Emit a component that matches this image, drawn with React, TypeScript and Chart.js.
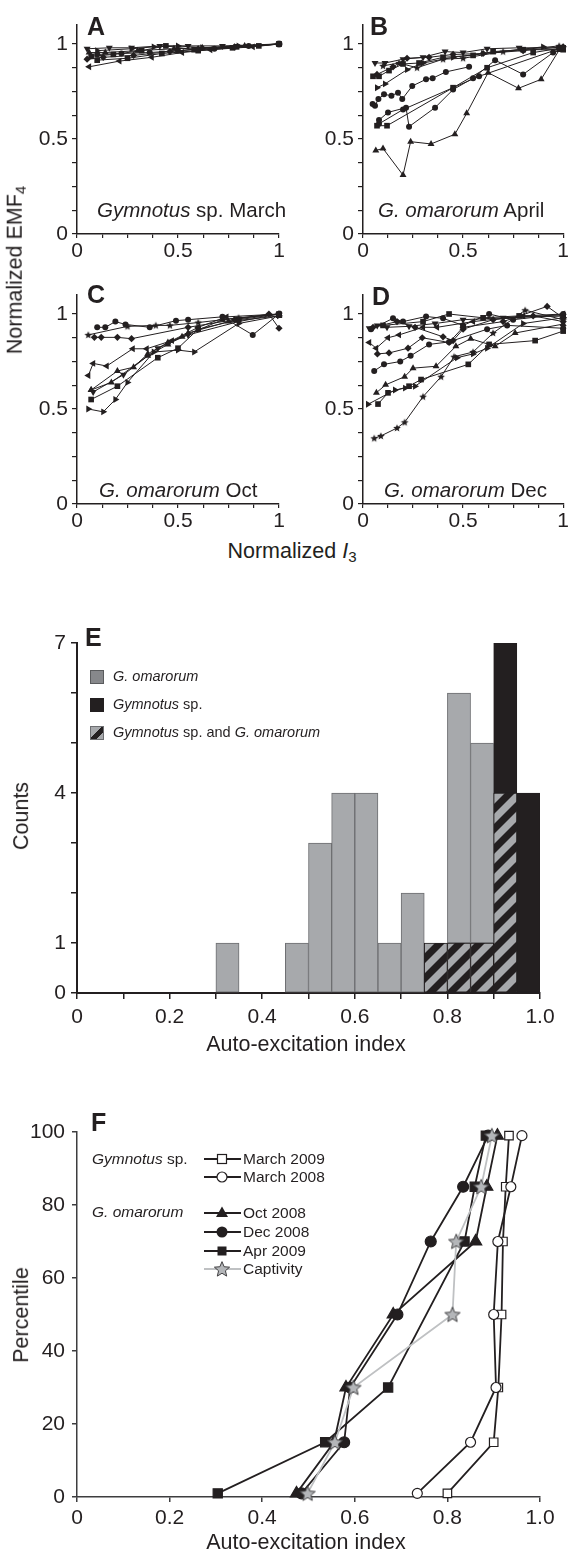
import React, { useEffect, useRef } from 'react';
import { Chart, registerables } from 'chart.js';

Chart.register(...registerables);

const FONT = "'Liberation Sans', Arial, Helvetica, sans-serif";
const INK = '#231f20';
const BAR_GRAY = '#a7a9ac';
const BAR_EDGE = '#6d6e71';
const STAR_GRAY = '#b4b6b9';
const LINE_GRAY = '#bfc1c3';
const AXIS_F = '#3d3d3f';
const TICK_SIZE = 21;
const TITLE_SIZE = 21.5;

type P = [number, number];

// ---------- Panels A–D (normalized EMF4 vs normalized I3) ----------
const smallTicks = [0, 0.125, 0.25, 0.375, 0.5, 0.625, 0.75, 0.875, 1];
const smallTickLabels = ['0', '', '', '', '0.5', '', '', '', '1'];

const panelAShapes = ['down', 'right', 'square', 'circle', 'up', 'diamond', 'left', 'square'];
const panelA: P[][] = [
  [[0.05, 0.975], [0.16, 0.98], [0.27, 0.98], [0.41, 0.99], [0.55, 0.99], [0.72, 0.99], [1, 1]],
  [[0.1, 0.965], [0.27, 0.975], [0.38, 0.985], [0.5, 0.99], [0.62, 0.98], [0.8, 0.99], [1, 1]],
  [[0.07, 0.935], [0.18, 0.945], [0.32, 0.965], [0.44, 0.99], [0.58, 0.97], [0.79, 0.985], [0.9, 0.99], [1, 1]],
  [[0.1, 0.945], [0.22, 0.95], [0.36, 0.955], [0.5, 0.965], [0.68, 0.975], [0.85, 0.99], [1, 1]],
  [[0.06, 0.955], [0.14, 0.955], [0.3, 0.965], [0.48, 0.975], [0.62, 0.98], [0.83, 0.99], [1, 1]],
  [[0.05, 0.92], [0.13, 0.93], [0.28, 0.94], [0.46, 0.96], [0.6, 0.975], [0.78, 0.985], [1, 1]],
  [[0.06, 0.88], [0.21, 0.91], [0.37, 0.93], [0.52, 0.955], [0.66, 0.97], [0.87, 0.985], [1, 1]],
  [[0.1, 0.915], [0.25, 0.925], [0.42, 0.95], [0.6, 0.965], [0.77, 0.98], [1, 1]],
];

const panelBShapes = ['up', 'circle', 'square', 'circle', 'circle', 'down', 'diamond', 'square', 'right', 'star'];
const panelB: P[][] = [
  [[0.064, 0.44], [0.1, 0.45], [0.2, 0.31], [0.238, 0.486], [0.34, 0.474], [0.459, 0.525], [0.518, 0.635], [0.625, 0.849], [0.777, 0.767], [0.89, 0.814], [0.98, 0.968]],
  [[0.08, 0.6], [0.125, 0.64], [0.215, 0.665], [0.23, 0.565], [0.36, 0.665], [0.45, 0.76], [0.55, 0.82], [0.66, 0.915], [0.8, 0.84], [0.95, 0.955]],
  [[0.07, 0.57], [0.12, 0.57], [0.45, 0.77], [0.62, 0.875], [0.85, 0.955], [1, 0.98]],
  [[0.08, 0.58], [0.2, 0.655], [0.58, 0.83], [0.98, 0.975]],
  [[0.048, 0.684], [0.06, 0.675], [0.077, 0.71], [0.105, 0.735], [0.142, 0.728], [0.175, 0.744], [0.196, 0.71], [0.246, 0.779], [0.315, 0.814], [0.348, 0.82], [0.414, 0.853], [0.53, 0.88]],
  [[0.06, 0.9], [0.11, 0.9], [0.2, 0.92], [0.3, 0.93], [0.41, 0.96], [0.5, 0.955], [0.62, 0.975], [0.78, 0.98], [0.98, 0.98]],
  [[0.07, 0.84], [0.15, 0.88], [0.22, 0.925], [0.33, 0.93], [0.45, 0.945], [0.6, 0.95], [0.8, 0.965], [1, 0.985]],
  [[0.05, 0.83], [0.08, 0.83], [0.13, 0.86], [0.2, 0.895], [0.28, 0.9], [0.4, 0.93], [0.55, 0.94], [0.65, 0.96], [0.8, 0.97], [1, 0.97]],
  [[0.07, 0.77], [0.11, 0.79], [0.22, 0.865], [0.3, 0.9], [0.45, 0.93], [0.6, 0.95], [0.9, 0.985]],
  [[0.1, 0.885], [0.18, 0.9], [0.27, 0.875], [0.4, 0.92], [0.5, 0.925], [0.7, 0.96], [0.98, 0.99]],
];

const panelCShapes = ['circle', 'star', 'diamond', 'left', 'up', 'square', 'right', 'up', 'down'];
const panelC: P[][] = [
  [[0.1, 0.93], [0.14, 0.93], [0.19, 0.96], [0.24, 0.945], [0.36, 0.93], [0.49, 0.965], [0.55, 0.97], [0.72, 0.985], [0.87, 0.89], [1, 1]],
  [[0.056, 0.89], [0.25, 0.935], [0.39, 0.94], [0.46, 0.94], [0.6, 0.955], [0.8, 0.98], [1, 1]],
  [[0.086, 0.877], [0.12, 0.877], [0.2, 0.877], [0.27, 0.87], [0.55, 0.93], [0.78, 0.97], [0.95, 1.0], [1, 0.925]],
  [[0.056, 0.676], [0.08, 0.74], [0.147, 0.726], [0.276, 0.817], [0.345, 0.817], [0.47, 0.86], [0.6, 0.93], [0.74, 0.985], [1, 1]],
  [[0.07, 0.6], [0.2, 0.7], [0.28, 0.72], [0.35, 0.79], [0.45, 0.85], [0.52, 0.88], [0.72, 0.97], [1, 1]],
  [[0.07, 0.55], [0.2, 0.62], [0.4, 0.77], [0.5, 0.82], [0.6, 0.92], [0.8, 0.97], [1, 1]],
  [[0.056, 0.5], [0.13, 0.485], [0.19, 0.55], [0.25, 0.64], [0.38, 0.8], [0.5, 0.81], [0.58, 0.8], [0.8, 0.95], [1, 0.99]],
  [[0.07, 0.6], [0.17, 0.64], [0.35, 0.78], [0.45, 0.84], [0.55, 0.9], [0.75, 0.96], [1, 0.99]],
  [[0.08, 0.59], [0.23, 0.68], [0.4, 0.82], [0.55, 0.89], [0.8, 0.96], [1, 1]],
];

const panelDShapes = ['star', 'square', 'right', 'up', 'circle', 'diamond', 'left', 'down', 'circle', 'square', 'diamond'];
const panelD: P[][] = [
  [[0.056, 0.346], [0.089, 0.358], [0.17, 0.4], [0.208, 0.43], [0.3, 0.565], [0.39, 0.67], [0.455, 0.775], [0.55, 0.8], [0.65, 0.9], [0.81, 1.02], [1, 0.97]],
  [[0.075, 0.526], [0.125, 0.585], [0.23, 0.62], [0.29, 0.655], [0.526, 0.735], [0.63, 0.84], [0.86, 0.86], [1, 0.91]],
  [[0.025, 0.525], [0.16, 0.6], [0.21, 0.61], [0.26, 0.62], [0.47, 0.77], [0.55, 0.79], [0.62, 0.82], [0.8, 0.95], [1, 0.98]],
  [[0.067, 0.586], [0.113, 0.627], [0.208, 0.67], [0.25, 0.715], [0.365, 0.725], [0.464, 0.83], [0.538, 0.87], [0.66, 0.83], [0.76, 0.9], [1, 0.947]],
  [[0.056, 0.7], [0.105, 0.735], [0.186, 0.75], [0.238, 0.78], [0.33, 0.84], [0.43, 0.853], [0.62, 0.92], [0.72, 0.94], [1, 0.925]],
  [[0.072, 0.79], [0.13, 0.795], [0.225, 0.82], [0.296, 0.875], [0.43, 0.85], [0.5, 0.93], [0.7, 0.96], [0.92, 1.04], [1, 0.98]],
  [[0.031, 0.85], [0.066, 0.82], [0.125, 0.875], [0.18, 0.89], [0.3, 0.93], [0.37, 0.93], [0.55, 0.96], [0.8, 0.99], [1, 1]],
  [[0.031, 0.925], [0.071, 0.94], [0.12, 0.93], [0.23, 0.935], [0.36, 0.95], [0.5, 0.97], [0.7, 0.98], [1, 0.99]],
  [[0.04, 0.92], [0.15, 0.977], [0.2, 0.96], [0.315, 0.987], [0.4, 0.977], [0.5, 0.94], [0.63, 1.0], [0.75, 0.97], [1, 1]],
  [[0.1, 0.94], [0.3, 0.96], [0.43, 1.0], [0.6, 0.98], [0.78, 0.99], [1, 0.99]],
  [[0.05, 0.93], [0.17, 0.96], [0.26, 0.93], [0.4, 0.88], [0.45, 0.86], [0.5, 0.92], [0.65, 0.97], [0.85, 0.99], [1, 0.96]],
];

// ---------- Panel E (histogram) ----------
const eBinCenters = [0.325, 0.475, 0.525, 0.575, 0.625, 0.675, 0.725, 0.775, 0.825, 0.875, 0.925, 0.975];
const eBothCounts = [0, 0, 0, 0, 0, 0, 0, 1, 1, 1, 4, 0];
const eOmarorumCounts = [1, 1, 3, 4, 4, 1, 2, 0, 5, 4, 0, 0];
const eGymnotusCounts = [0, 0, 0, 0, 0, 0, 0, 0, 0, 0, 3, 4];
const eXTicks = [0, 0.1, 0.2, 0.3, 0.4, 0.5, 0.6, 0.7, 0.8, 0.9, 1.0];
const eXTickLabels = ['0', '', '0.2', '', '0.4', '', '0.6', '', '0.8', '', '1.0'];
const eYTicks = [0, 1, 2, 3, 4, 5, 6, 7];
const eYTickLabels = ['0', '1', '', '', '4', '', '', '7'];

// ---------- Panel F (cumulative percentiles) ----------
const fPercentiles = [1, 15, 30, 50, 70, 85, 99];
const fMarch2009 = [0.80, 0.90, 0.91, 0.917, 0.92, 0.926, 0.933];
const fMarch2008 = [0.735, 0.85, 0.905, 0.90, 0.909, 0.937, 0.961];
const fOct2008 = [0.474, 0.555, 0.581, 0.683, 0.861, 0.885, 0.908];
const fDec2008 = [0.485, 0.577, 0.59, 0.692, 0.764, 0.834, 0.888];
const fApr2009: (number | null)[] = [0.304, 0.536, 0.672, null, 0.837, 0.859, 0.883];
const fCaptivity = [0.498, 0.557, 0.597, 0.811, 0.819, 0.873, 0.896];
const fXTicks = [0, 0.2, 0.4, 0.6, 0.8, 1.0];
const fXTickLabels = ['0', '0.2', '0.4', '0.6', '0.8', '1.0'];
const fYTicks = [0, 20, 40, 60, 80, 100];
const fYTickLabels = ['0', '20', '40', '60', '80', '100'];
const fLegendLabels = ['March 2009', 'March 2008', 'Oct 2008', 'Dec 2008', 'Apr 2009', 'Captivity'];
const fLegendKinds = ['openSquare', 'openCircle', 'triangle', 'circle', 'square', 'star'];
const fLegendRowsY = [1159, 1177, 1213, 1232, 1251, 1269];

const F_TOP = 1100;

function starCanvas(r: number, fill: string, stroke: string, lw: number): HTMLCanvasElement {
  const size = Math.ceil(2 * r + 2 * lw + 2);
  const c = document.createElement('canvas');
  c.width = size;
  c.height = size;
  const g = c.getContext('2d')!;
  const cx = size / 2;
  const cy = size / 2 + r * 0.08;
  g.beginPath();
  for (let i = 0; i < 10; i++) {
    const a = -Math.PI / 2 + (i * Math.PI) / 5;
    const rr = i % 2 === 0 ? r : r * 0.45;
    const x = cx + rr * Math.cos(a);
    const y = cy + rr * Math.sin(a);
    if (i === 0) g.moveTo(x, y);
    else g.lineTo(x, y);
  }
  g.closePath();
  g.fillStyle = fill;
  g.fill();
  if (lw > 0) {
    g.strokeStyle = stroke;
    g.lineWidth = lw;
    g.stroke();
  }
  return c;
}

function makeHatch(): CanvasPattern {
  const Pz = 20;
  const c = document.createElement('canvas');
  c.width = Pz;
  c.height = Pz;
  const g = c.getContext('2d')!;
  g.fillStyle = BAR_GRAY;
  g.fillRect(0, 0, Pz, Pz);
  g.fillStyle = INK;
  const h = Pz / 2;
  g.beginPath();
  g.moveTo(0, 0); g.lineTo(h, 0); g.lineTo(0, h); g.closePath(); g.fill();
  g.beginPath();
  g.moveTo(Pz, 0); g.lineTo(Pz, h); g.lineTo(h, Pz); g.lineTo(0, Pz); g.closePath(); g.fill();
  return g.createPattern(c, 'repeat')!;
}

function scaleOpts(p: {
  min: number; max: number; ticks: number[]; labels: string[]; isX: boolean; size: number;
  tickLen: number; pad: number; borderW: number; color: string; stacked?: boolean; tickW?: number;
}) {
  return {
    type: 'linear',
    min: p.min,
    max: p.max,
    offset: false,
    stacked: !!p.stacked,
    afterBuildTicks: (s: any) => {
      s.ticks = p.ticks.map((v) => ({ value: v }));
    },
    afterFit: (s: any) => {
      if (p.isX) s.height = p.size;
      else s.width = p.size;
    },
    ticks: {
      autoSkip: false,
      maxRotation: 0,
      minRotation: 0,
      padding: p.pad,
      color: INK,
      font: { family: FONT, size: TICK_SIZE },
      callback: (_v: any, i: number) => p.labels[i] ?? '',
    },
    grid: {
      display: true,
      drawOnChartArea: false,
      drawTicks: true,
      tickLength: p.tickLen,
      color: p.color,
      lineWidth: p.tickW ?? 1.2,
      offset: false,
    },
    border: { display: true, color: p.color, width: p.borderW },
  };
}

function markerFor(shape: string, star: HTMLCanvasElement) {
  switch (shape) {
    case 'circle': return { style: 'circle' as any, rot: 0, r: 3 };
    case 'square': return { style: 'rect' as any, rot: 0, r: 4 };
    case 'diamond': return { style: 'rectRot' as any, rot: 0, r: 3.6 };
    case 'up': return { style: 'triangle' as any, rot: 0, r: 4 };
    case 'down': return { style: 'triangle' as any, rot: 180, r: 4 };
    case 'right': return { style: 'triangle' as any, rot: 90, r: 4 };
    case 'left': return { style: 'triangle' as any, rot: -90, r: 4 };
    default: return { style: star as any, rot: 0, r: 4 };
  }
}

function smallConfig(series: P[][], shapes: string[], rightPad: number): any {
  const star = starCanvas(4, INK, INK, 0);
  return {
    type: 'scatter',
    data: {
      datasets: series.map((pts, i) => {
        const m = markerFor(shapes[i], star);
        return {
          data: pts.map(([x, y]) => ({ x, y })),
          showLine: true,
          borderColor: INK,
          borderWidth: 1,
          tension: 0,
          pointStyle: m.style,
          pointRotation: m.rot,
          pointRadius: m.r,
          pointBackgroundColor: INK,
          pointBorderColor: INK,
          pointBorderWidth: 0,
          clip: false,
        };
      }),
    },
    options: {
      animation: false,
      responsive: false,
      devicePixelRatio: 1,
      events: [],
      layout: { padding: { top: 25, right: rightPad, left: 0, bottom: 0 } },
      plugins: { legend: { display: false }, tooltip: { enabled: false } },
      scales: {
        x: scaleOpts({ min: 0, max: 1, ticks: smallTicks, labels: smallTickLabels, isX: true, size: 30, tickLen: 4, pad: 1, borderW: 1.5, color: INK }),
        y: scaleOpts({ min: 0, max: 1.1, ticks: smallTicks, labels: smallTickLabels, isX: false, size: 77, tickLen: 5, pad: 4, borderW: 1.5, color: INK }),
      },
    },
  };
}

function histConfig(): any {
  const hatch = makeHatch();
  const toData = (arr: number[]) => eBinCenters.map((x, i) => ({ x, y: arr[i] === 0 ? null : arr[i] }));
  const common = { borderWidth: 1, borderSkipped: false, barPercentage: 1, categoryPercentage: 1 };
  return {
    type: 'bar',
    data: {
      datasets: [
        { ...common, label: 'Gymnotus sp. and G. omarorum', data: toData(eBothCounts), backgroundColor: hatch, borderColor: INK },
        { ...common, label: 'G. omarorum', data: toData(eOmarorumCounts), backgroundColor: BAR_GRAY, borderColor: BAR_EDGE },
        { ...common, label: 'Gymnotus sp.', data: toData(eGymnotusCounts), backgroundColor: INK, borderColor: INK },
      ],
    },
    options: {
      animation: false,
      responsive: false,
      devicePixelRatio: 1,
      events: [],
      layout: { padding: { top: 25, right: 30, left: 0, bottom: 0 } },
      plugins: { legend: { display: false }, tooltip: { enabled: false } },
      scales: {
        x: scaleOpts({ min: 0, max: 1, ticks: eXTicks, labels: eXTickLabels, isX: true, size: 45, tickLen: 6, pad: 6, borderW: 2, color: INK, stacked: true, tickW: 1.5 }),
        y: scaleOpts({ min: 0, max: 7, ticks: eYTicks, labels: eYTickLabels, isX: false, size: 77, tickLen: 6, pad: 5, borderW: 2, color: INK, stacked: true, tickW: 1.5 }),
      },
    },
  };
}

function drawMark(ctx: CanvasRenderingContext2D, kind: string, x: number, y: number, star: HTMLCanvasElement) {
  ctx.lineWidth = 1.2;
  ctx.strokeStyle = INK;
  ctx.fillStyle = INK;
  switch (kind) {
    case 'openSquare':
      ctx.fillStyle = '#ffffff';
      ctx.fillRect(x - 4.5, y - 4.5, 9, 9);
      ctx.strokeRect(x - 4.5, y - 4.5, 9, 9);
      break;
    case 'openCircle':
      ctx.beginPath(); ctx.arc(x, y, 5, 0, Math.PI * 2);
      ctx.fillStyle = '#ffffff'; ctx.fill(); ctx.stroke();
      break;
    case 'triangle':
      ctx.beginPath(); ctx.moveTo(x, y - 6.5); ctx.lineTo(x + 6, y + 4); ctx.lineTo(x - 6, y + 4); ctx.closePath(); ctx.fill();
      break;
    case 'circle':
      ctx.beginPath(); ctx.arc(x, y, 5.5, 0, Math.PI * 2); ctx.fill();
      break;
    case 'square':
      ctx.fillRect(x - 4.5, y - 4.5, 9, 9);
      break;
    default:
      ctx.drawImage(star, x - star.width / 2, y - star.height / 2);
  }
}

function cdfConfig(): any {
  const star = starCanvas(8, STAR_GRAY, '#414042', 1);
  const pts = (xs: (number | null)[]) =>
    xs.map((x, i) => (x == null ? null : { x, y: fPercentiles[i] })).filter((p) => p !== null);
  const base = { showLine: true, tension: 0, borderWidth: 1.8, clip: false, pointBorderWidth: 1.2, pointBorderColor: INK };
  const legendPlugin = {
    id: 'fLegend',
    afterDraw(chart: any) {
      const ctx: CanvasRenderingContext2D = chart.ctx;
      fLegendKinds.forEach((k, i) => {
        const y = fLegendRowsY[i] - F_TOP;
        ctx.save();
        ctx.strokeStyle = k === 'star' ? LINE_GRAY : INK;
        ctx.lineWidth = 2;
        ctx.beginPath(); ctx.moveTo(204, y); ctx.lineTo(241, y); ctx.stroke();
        drawMark(ctx, k, 222, y, star);
        ctx.restore();
      });
    },
  };
  return {
    type: 'scatter',
    data: {
      datasets: [
        { ...base, label: 'Captivity', data: pts(fCaptivity), borderColor: LINE_GRAY, pointStyle: star, pointRadius: 8, pointBackgroundColor: STAR_GRAY },
        { ...base, label: 'Apr 2009', data: pts(fApr2009), borderColor: INK, pointStyle: 'rect', pointRadius: 6.5, pointBackgroundColor: INK },
        { ...base, label: 'Dec 2008', data: pts(fDec2008), borderColor: INK, pointStyle: 'circle', pointRadius: 5.5, pointBackgroundColor: INK },
        { ...base, label: 'Oct 2008', data: pts(fOct2008), borderColor: INK, pointStyle: 'triangle', pointRadius: 7, pointBackgroundColor: INK },
        { ...base, label: 'March 2008', data: pts(fMarch2008), borderColor: INK, pointStyle: 'circle', pointRadius: 5, pointBackgroundColor: '#ffffff' },
        { ...base, label: 'March 2009', data: pts(fMarch2009), borderColor: INK, pointStyle: 'rect', pointRadius: 6, pointBackgroundColor: '#ffffff' },
      ],
    },
    options: {
      animation: false,
      responsive: false,
      devicePixelRatio: 1,
      events: [],
      layout: { padding: { top: 32, right: 30, left: 0, bottom: 0 } },
      plugins: { legend: { display: false }, tooltip: { enabled: false } },
      scales: {
        x: scaleOpts({ min: 0, max: 1, ticks: fXTicks, labels: fXTickLabels, isX: true, size: 43, tickLen: 5, pad: 4, borderW: 1.5, color: AXIS_F, tickW: 1.5 }),
        y: scaleOpts({ min: 0, max: 100, ticks: fYTicks, labels: fYTickLabels, isX: false, size: 77, tickLen: 5, pad: 7, borderW: 1.5, color: AXIS_F, tickW: 1.5 }),
      },
    },
    plugins: [legendPlugin],
  };
}

function ChartBox(props: { left: number; top: number; width: number; height: number; make: () => any }) {
  const ref = useRef<HTMLCanvasElement | null>(null);
  useEffect(() => {
    const chart = new Chart(ref.current as HTMLCanvasElement, props.make());
    return () => chart.destroy();
  }, []);
  return (
    <canvas
      ref={ref}
      width={props.width}
      height={props.height}
      style={{ position: 'absolute', left: props.left, top: props.top, width: props.width, height: props.height }}
    />
  );
}

function Txt(props: { x: number; y: number; size: number; children: any; weight?: number; center?: boolean }) {
  const style: any = {
    position: 'absolute',
    left: props.x,
    top: props.y - props.size * 0.6,
    fontFamily: FONT,
    fontSize: props.size,
    lineHeight: `${props.size * 1.2}px`,
    fontWeight: props.weight ?? 400,
    color: INK,
    whiteSpace: 'nowrap',
  };
  if (props.center) style.transform = 'translateX(-50%)';
  return <div style={style}>{props.children}</div>;
}

function VTxt(props: { x: number; y: number; size: number; children: any }) {
  return (
    <div
      style={{
        position: 'absolute',
        left: props.x,
        top: props.y,
        transform: 'translate(-50%, -50%) rotate(-90deg)',
        fontFamily: FONT,
        fontSize: props.size,
        lineHeight: `${props.size * 1.2}px`,
        color: INK,
        whiteSpace: 'nowrap',
      }}
    >
      {props.children}
    </div>
  );
}

function Box(props: { x: number; y: number; bg: string; border: string }) {
  return (
    <div
      style={{
        position: 'absolute', left: props.x, top: props.y, width: 14, height: 14,
        background: props.bg, border: `1px solid ${props.border}`, boxSizing: 'border-box',
      }}
    />
  );
}

export default function App() {
  const sub = { fontSize: '0.7em', verticalAlign: '-0.25em' } as any;
  return (
    <div style={{ position: 'absolute', left: 0, top: 0, width: 570, height: 1557, background: '#fff', overflow: 'hidden' }}>
      <ChartBox left={0} top={0} width={290} height={264} make={() => smallConfig(panelA, panelAShapes, 11)} />
      <ChartBox left={286} top={0} width={284} height={264} make={() => smallConfig(panelB, panelBShapes, 5)} />
      <ChartBox left={0} top={270} width={290} height={264} make={() => smallConfig(panelC, panelCShapes, 11)} />
      <ChartBox left={286} top={270} width={284} height={264} make={() => smallConfig(panelD, panelDShapes, 5)} />
      <ChartBox left={0} top={618} width={570} height={420} make={histConfig} />
      <ChartBox left={0} top={F_TOP} width={570} height={440} make={cdfConfig} />

      {/* panel letters */}
      <Txt x={87} y={26} size={25} weight={700}>A</Txt>
      <Txt x={370} y={26} size={25} weight={700}>B</Txt>
      <Txt x={87} y={294} size={25} weight={700}>C</Txt>
      <Txt x={372} y={296} size={25} weight={700}>D</Txt>
      <Txt x={85} y={637} size={25} weight={700}>E</Txt>
      <Txt x={91} y={1122} size={25} weight={700}>F</Txt>

      {/* A–D annotations */}
      <Txt x={97} y={210} size={20.5}><i>Gymnotus</i> sp. March</Txt>
      <Txt x={378} y={210} size={20.5}><i>G. omarorum</i> April</Txt>
      <Txt x={99} y={490} size={20.5}><i>G. omarorum</i> Oct</Txt>
      <Txt x={384} y={490} size={20.5}><i>G. omarorum</i> Dec</Txt>
      <Txt x={292} y={552} size={TITLE_SIZE} center>Normalized <i>I</i><span style={sub}>3</span></Txt>
      <VTxt x={18} y={270} size={TITLE_SIZE}>Normalized EMF<span style={sub}>4</span></VTxt>

      {/* E legend and titles */}
      <Box x={90} y={670} bg="#87888b" border="#5a5b5d" />
      <Box x={90} y={698} bg={INK} border={INK} />
      <Box x={90} y={726} bg={`linear-gradient(135deg, ${BAR_GRAY} 0 42%, ${INK} 42% 72%, ${BAR_GRAY} 72% 100%)`} border={BAR_EDGE} />
      <Txt x={113} y={677} size={14.5}><i>G. omarorum</i></Txt>
      <Txt x={113} y={705} size={14.5}><i>Gymnotus</i> sp.</Txt>
      <Txt x={113} y={733} size={14.5}><i>Gymnotus</i> sp. and <i>G. omarorum</i></Txt>
      <VTxt x={22} y={816} size={TITLE_SIZE}>Counts</VTxt>
      <Txt x={306} y={1045} size={TITLE_SIZE} center>Auto-excitation index</Txt>

      {/* F legend text and titles */}
      <Txt x={92} y={1159} size={15.5}><i>Gymnotus</i> sp.</Txt>
      <Txt x={92} y={1212} size={15.5}><i>G. omarorum</i></Txt>
      {fLegendLabels.map((l, i) => (
        <Txt key={l} x={243} y={fLegendRowsY[i]} size={15.5}>{l}</Txt>
      ))}
      <VTxt x={22} y={1315} size={TITLE_SIZE}>Percentile</VTxt>
      <Txt x={306} y={1543} size={TITLE_SIZE} center>Auto-excitation index</Txt>
    </div>
  );
}
